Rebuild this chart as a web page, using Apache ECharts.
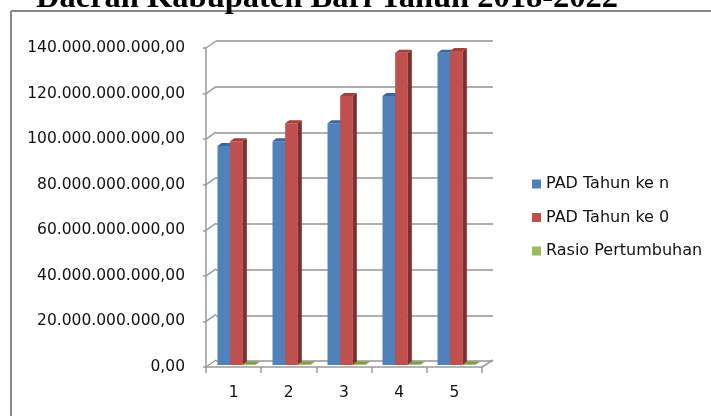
<!DOCTYPE html>
<html><head><meta charset="utf-8">
<script src="https://cdn.jsdelivr.net/npm/echarts@6/dist/echarts.min.js"></script>
<style>html,body{margin:0;padding:0;background:#fff}#c{width:711px;height:416px}</style>
</head><body><div id="c"></div>
<script>
const titleText = 'Daerah Kabupaten Bari Tahun 2018-2022';
const categories = ['1', '2', '3', '4', '5'];
const padTahunN = [96100000000, 98200000000, 106100000000, 118100000000, 137000000000];
const padTahun0 = [98200000000, 106100000000, 118100000000, 137000000000, 137800000000];
const rasioPertumbuhan = [0.02, 0.08, 0.11, 0.16, 0.01];
const seriesNames = ['PAD Tahun ke n', 'PAD Tahun ke 0', 'Rasio Pertumbuhan'];
const yTicks = [0, 20000000000, 40000000000, 60000000000, 80000000000, 100000000000, 120000000000, 140000000000];
const yMin = 0, yMax = 140000000000, yInterval = 20000000000;

const palette = [
  {front:'#4f81bd', top:'#3b679f', side:'#35608f'},
  {front:'#c0504d', top:'#a63d3a', side:'#7f2f2d'},
  {front:'#9bbb59', top:'#7f9d43', side:'#6f8a3a'}
];

function fmt(v){
  return Math.round(v).toString().replace(/\B(?=(\d{3})+(?!\d))/g, '.') + ',00';
}

function bar3d(k){
  return function(params, api){
    const cat = api.value(0), val = api.value(1);
    const top = api.coord([cat, val]);
    const base = api.coord([cat, 0]);
    const catW = api.size([1, 0])[0];
    const bw = catW * (1 - 0.31) / 3;
    const x0 = base[0] - 1.5 * bw + k * bw;
    const h = Math.max(base[1] - top[1], 0.5);
    const yTop = base[1] - h;
    const dx = 4, dy = -3;
    const c = palette[k];
    return {type:'group', children:[
      {type:'rect', shape:{x:x0, y:yTop, width:bw, height:h}, style:{fill:c.front}},
      {type:'polygon', shape:{points:[[x0+bw,yTop],[x0+bw+dx,yTop+dy],[x0+bw+dx,base[1]+dy],[x0+bw,base[1]]]}, style:{fill:c.side}},
      {type:'polygon', shape:{points:[[x0,yTop],[x0+dx,yTop+dy],[x0+bw+dx,yTop+dy],[x0+bw,yTop]]}, style:{fill:c.top}}
    ]};
  };
}

function decor(params, api){
  const cs = params.coordSys;
  const v = api.value(1);
  const p = api.coord([0, v]);
  const st = {stroke:'#9a9a9a', lineWidth:1.5};
  const ch = [{type:'line', shape:{x1:cs.x, y1:p[1], x2:cs.x+10, y2:p[1]-7}, style:st}];
  if (v === 0) {
    ch.push({type:'line', shape:{x1:cs.x+cs.width, y1:p[1], x2:cs.x+cs.width+11, y2:p[1]-7}, style:st});
  }
  return {type:'group', children:ch};
}

const chart = echarts.init(document.getElementById('c'), null, {renderer:'canvas'});
const lbl = {fontFamily:'DejaVu Sans', fontSize:15.5, color:'#111'};
chart.setOption({
  animation:false,
  title:{text:titleText, left:36, top:-18, padding:0, textStyle:{fontFamily:'Liberation Serif', fontWeight:'bold', fontSize:32.5, color:'#000'}},
  graphic:[
    {type:'line', shape:{x1:11, y1:11, x2:711, y2:11}, style:{stroke:'#888', lineWidth:2}},
    {type:'line', shape:{x1:11, y1:11, x2:11, y2:416}, style:{stroke:'#888', lineWidth:2}}
  ],
  legend:{
    orient:'vertical', left:532, top:175, padding:0, itemWidth:9, itemHeight:9, itemGap:15.5, icon:'rect',
    data:seriesNames,
    textStyle:{fontFamily:'DejaVu Sans', fontSize:16, color:'#111', lineHeight:18}
  },
  grid:[
    {left:216, right:218, top:41, bottom:55},
    {left:206, right:229, top:48, bottom:49},
    {left:209, right:227, top:46, bottom:51}
  ],
  xAxis:[
    {gridIndex:0, type:'category', data:categories, show:false},
    {gridIndex:1, type:'category', data:categories,
      axisLine:{lineStyle:{color:'#9a9a9a', width:1.5}},
      axisTick:{show:true, length:6, lineStyle:{color:'#9a9a9a', width:1.5}},
      axisLabel:Object.assign({margin:18}, lbl)},
    {gridIndex:2, type:'category', data:categories, show:false}
  ],
  yAxis:[
    {gridIndex:0, type:'value', min:yMin, max:yMax, interval:yInterval,
      axisLine:{show:false}, axisTick:{show:false}, axisLabel:{show:false},
      splitLine:{show:true, lineStyle:{color:'#959595', width:1.5}}},
    {gridIndex:1, type:'value', min:yMin, max:yMax, interval:yInterval,
      axisLine:{show:true, lineStyle:{color:'#9a9a9a', width:1.5}},
      axisTick:{show:true, length:3, lineStyle:{color:'#9a9a9a', width:1.5}},
      splitLine:{show:false},
      axisLabel:Object.assign({margin:21, formatter:fmt}, lbl)},
    {gridIndex:2, type:'value', min:yMin, max:yMax, interval:yInterval, show:false, splitLine:{show:false}}
  ],
  series:[
    {type:'custom', name:'decor', xAxisIndex:1, yAxisIndex:1, silent:true, renderItem:decor,
      data:yTicks.map(v => [0, v])},
    {type:'custom', name:seriesNames[0], xAxisIndex:2, yAxisIndex:2, renderItem:bar3d(0),
      itemStyle:{color:palette[0].front}, data:padTahunN.map((v,i)=>[i, v])},
    {type:'custom', name:seriesNames[1], xAxisIndex:2, yAxisIndex:2, renderItem:bar3d(1),
      itemStyle:{color:palette[1].front}, data:padTahun0.map((v,i)=>[i, v])},
    {type:'custom', name:seriesNames[2], xAxisIndex:2, yAxisIndex:2, renderItem:bar3d(2),
      itemStyle:{color:palette[2].front}, data:rasioPertumbuhan.map((v,i)=>[i, v])}
  ]
});
</script></body></html>
